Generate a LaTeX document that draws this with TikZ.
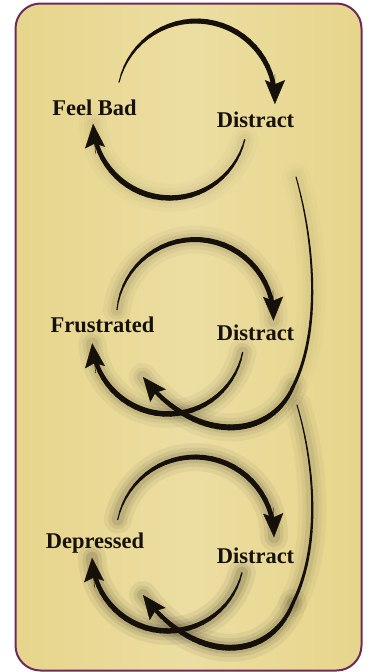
\documentclass[tikz,border=0pt]{standalone}
\usepackage{fontspec}
\setmainfont{Liberation Serif}
\usetikzlibrary{calc,arrows.meta}
\definecolor{ink}{HTML}{15100A}
\definecolor{panel}{HTML}{E6D58B}
\definecolor{panellight}{HTML}{ECDEA2}
\definecolor{rim}{HTML}{6B2C5B}
\pgfdeclarelayer{back}
\pgfdeclarelayer{halo}
\pgfsetlayers{back,halo,main}

% sample points tp0..tp30 along an arc or along a curve
\newcommand{\arcpts}[4]{%
  \foreach \i in {0,...,30}
    \coordinate (tp\i) at ($(#1)+({#3+(#4-(#3))*\i/30}:#2)$);}
\newcommand{\curvepts}[4]{%
  \foreach \i in {0,...,30} {
    \pgfmathsetmacro{\tpos}{\i/30}
    \path #1 .. controls #2 and #3 .. #4 coordinate[pos=\tpos] (tp\i);
  }}
% tapered stroke through tp0..tp#5 (start width, end width, bulge, halo)
\newcommand{\taper}[5]{%
  \ifdim #4pt>0pt
    \begin{pgfonlayer}{halo}
      \foreach \hw/\ho in {28/0.045,19/0.06,12/0.08} {
        \pgfmathsetmacro{\op}{#4*\ho}
        \draw[draw=ink, opacity=\op, line width=\hw pt, line cap=round, line join=round]
          (tp0) \foreach \i in {1,...,30} { -- (tp\i) };
      }
    \end{pgfonlayer}
  \fi
  \foreach \i [remember=\i as \j (initially 0)] in {1,...,#5} {
    \pgfmathsetmacro{\w}{#1+(#2-(#1))*\i/30+#3*sin(180*\i/30)}
    \draw[draw=ink, line width=\w pt, line cap=round] (tp\j) -- (tp\i);
  }}
\newcommand{\tiphead}{%
  \coordinate (tpback) at ($(tp30)!30pt!(tp29)$);
  \draw[draw=ink, fill=ink, line width=0.4pt, -{Stealth[length=24pt,width=20pt,inset=4pt]}] (tpback) -- (tp30);}

\begin{document}
\begin{tikzpicture}[x=1pt, y=-1pt,
  lbl/.style={font=\bfseries\fontsize{22.5}{27}\selectfont, text=ink, anchor=base, inner sep=0pt}
]
\useasboundingbox (0,0) rectangle (368,672);

% Panel
\begin{pgfonlayer}{back}
  \fill[white] (0,0) rectangle (368,672);
  \shade[left color=panel, right color=panel, middle color=panellight, rounded corners=25pt] (15.5,3.5) rectangle (361.5,670.5);
  \draw[rim, line width=2pt, rounded corners=25pt] (15.5,3.5) rectangle (361.5,670.5);
\end{pgfonlayer}

% Cycle 1
\node[lbl] (feelbad) at (94.5,115) {Feel Bad};
\node[lbl] (distract1) at (255.5,127) {Distract};
\coordinate (c1top) at (196,100);
\coordinate (c1bot) at (170,121);
\arcpts{c1top}{79}{-167}{3}
\taper{0.8}{4.2}{2.5}{0}{29}\tiphead
\arcpts{c1bot}{77}{14}{178}
\taper{1}{3.8}{3}{0.4}{29}\tiphead

% Long return 1
\curvepts{(296,177)}{(314,240)}{(322,330)}{(293,387)}
\taper{1}{3.2}{0}{0.3}{30}
\curvepts{(293,387)}{(270,440)}{(195,445)}{(143,377)}
\taper{3.2}{3.6}{2.5}{1}{29}\tiphead

% Cycle 2
\node[lbl] (frustrated) at (102.5,332) {Frustrated};
\node[lbl] (distract2) at (255.5,340) {Distract};
\coordinate (c2top) at (195,318);
\coordinate (c2bot) at (168,338);
\arcpts{c2top}{78.5}{-174}{2}
\taper{0.8}{4.2}{2.5}{0.8}{29}\tiphead
\arcpts{c2bot}{76}{11}{176}
\taper{1}{3.8}{3}{1}{29}\tiphead

% Long return 2
\curvepts{(297,405)}{(314,462)}{(322,545)}{(293,603)}
\taper{1}{3.2}{0}{0.8}{30}
\curvepts{(293,603)}{(270,662)}{(195,666)}{(143,595)}
\taper{3.2}{3.6}{2.5}{1.3}{29}\tiphead

% Cycle 3
\node[lbl] (depressed) at (95,548) {Depressed};
\node[lbl] (distract3) at (255.5,563) {Distract};
\coordinate (c3top) at (195,536);
\coordinate (c3bot) at (168,555);
\arcpts{c3top}{79}{-168}{1}
\taper{0.8}{4.2}{2.5}{1.2}{29}\tiphead
\arcpts{c3bot}{76}{13.5}{178}
\taper{1}{3.8}{3}{1.4}{29}\tiphead

\end{tikzpicture}
\end{document}
